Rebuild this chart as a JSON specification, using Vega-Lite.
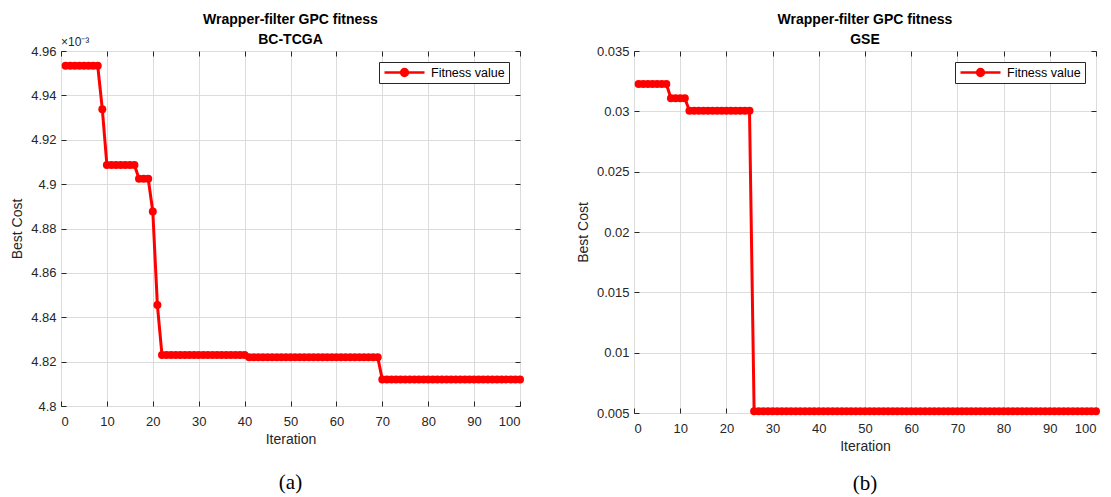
{
  "$schema": "https://vega.github.io/schema/vega-lite/v6.json",
  "background": "white",
  "padding": {"left": 10, "top": 12, "right": 3, "bottom": 0},
  "datasets": {
    "bc": [
      {"iteration": 1, "cost": 0.0049533}, {"iteration": 2, "cost": 0.0049533}, {"iteration": 3, "cost": 0.0049533}, {"iteration": 4, "cost": 0.0049533},
      {"iteration": 5, "cost": 0.0049533}, {"iteration": 6, "cost": 0.0049533}, {"iteration": 7, "cost": 0.0049533}, {"iteration": 8, "cost": 0.0049533},
      {"iteration": 9, "cost": 0.0049338},
      {"iteration": 10, "cost": 0.0049086}, {"iteration": 11, "cost": 0.0049086}, {"iteration": 12, "cost": 0.0049086}, {"iteration": 13, "cost": 0.0049086},
      {"iteration": 14, "cost": 0.0049086}, {"iteration": 15, "cost": 0.0049086}, {"iteration": 16, "cost": 0.0049086},
      {"iteration": 17, "cost": 0.0049024}, {"iteration": 18, "cost": 0.0049024}, {"iteration": 19, "cost": 0.0049024},
      {"iteration": 20, "cost": 0.0048877},
      {"iteration": 21, "cost": 0.0048455},
      {"iteration": 22, "cost": 0.004823}, {"iteration": 23, "cost": 0.004823}, {"iteration": 24, "cost": 0.004823}, {"iteration": 25, "cost": 0.004823},
      {"iteration": 26, "cost": 0.004823}, {"iteration": 27, "cost": 0.004823}, {"iteration": 28, "cost": 0.004823}, {"iteration": 29, "cost": 0.004823},
      {"iteration": 30, "cost": 0.004823}, {"iteration": 31, "cost": 0.004823}, {"iteration": 32, "cost": 0.004823}, {"iteration": 33, "cost": 0.004823},
      {"iteration": 34, "cost": 0.004823}, {"iteration": 35, "cost": 0.004823}, {"iteration": 36, "cost": 0.004823}, {"iteration": 37, "cost": 0.004823},
      {"iteration": 38, "cost": 0.004823}, {"iteration": 39, "cost": 0.004823}, {"iteration": 40, "cost": 0.004823},
      {"iteration": 41, "cost": 0.004822}, {"iteration": 42, "cost": 0.004822}, {"iteration": 43, "cost": 0.004822}, {"iteration": 44, "cost": 0.004822},
      {"iteration": 45, "cost": 0.004822}, {"iteration": 46, "cost": 0.004822}, {"iteration": 47, "cost": 0.004822}, {"iteration": 48, "cost": 0.004822},
      {"iteration": 49, "cost": 0.004822}, {"iteration": 50, "cost": 0.004822}, {"iteration": 51, "cost": 0.004822}, {"iteration": 52, "cost": 0.004822},
      {"iteration": 53, "cost": 0.004822}, {"iteration": 54, "cost": 0.004822}, {"iteration": 55, "cost": 0.004822}, {"iteration": 56, "cost": 0.004822},
      {"iteration": 57, "cost": 0.004822}, {"iteration": 58, "cost": 0.004822}, {"iteration": 59, "cost": 0.004822}, {"iteration": 60, "cost": 0.004822},
      {"iteration": 61, "cost": 0.004822}, {"iteration": 62, "cost": 0.004822}, {"iteration": 63, "cost": 0.004822}, {"iteration": 64, "cost": 0.004822},
      {"iteration": 65, "cost": 0.004822}, {"iteration": 66, "cost": 0.004822}, {"iteration": 67, "cost": 0.004822}, {"iteration": 68, "cost": 0.004822},
      {"iteration": 69, "cost": 0.004822},
      {"iteration": 70, "cost": 0.004812}, {"iteration": 71, "cost": 0.004812}, {"iteration": 72, "cost": 0.004812}, {"iteration": 73, "cost": 0.004812},
      {"iteration": 74, "cost": 0.004812}, {"iteration": 75, "cost": 0.004812}, {"iteration": 76, "cost": 0.004812}, {"iteration": 77, "cost": 0.004812},
      {"iteration": 78, "cost": 0.004812}, {"iteration": 79, "cost": 0.004812}, {"iteration": 80, "cost": 0.004812}, {"iteration": 81, "cost": 0.004812},
      {"iteration": 82, "cost": 0.004812}, {"iteration": 83, "cost": 0.004812}, {"iteration": 84, "cost": 0.004812}, {"iteration": 85, "cost": 0.004812},
      {"iteration": 86, "cost": 0.004812}, {"iteration": 87, "cost": 0.004812}, {"iteration": 88, "cost": 0.004812}, {"iteration": 89, "cost": 0.004812},
      {"iteration": 90, "cost": 0.004812}, {"iteration": 91, "cost": 0.004812}, {"iteration": 92, "cost": 0.004812}, {"iteration": 93, "cost": 0.004812},
      {"iteration": 94, "cost": 0.004812}, {"iteration": 95, "cost": 0.004812}, {"iteration": 96, "cost": 0.004812}, {"iteration": 97, "cost": 0.004812},
      {"iteration": 98, "cost": 0.004812}, {"iteration": 99, "cost": 0.004812}, {"iteration": 100, "cost": 0.004812}
    ],
    "gse": [
      {"iteration": 1, "cost": 0.03227}, {"iteration": 2, "cost": 0.03227}, {"iteration": 3, "cost": 0.03227}, {"iteration": 4, "cost": 0.03227},
      {"iteration": 5, "cost": 0.03227}, {"iteration": 6, "cost": 0.03227}, {"iteration": 7, "cost": 0.03227},
      {"iteration": 8, "cost": 0.03108}, {"iteration": 9, "cost": 0.03108}, {"iteration": 10, "cost": 0.03108}, {"iteration": 11, "cost": 0.03108},
      {"iteration": 12, "cost": 0.03005}, {"iteration": 13, "cost": 0.03005}, {"iteration": 14, "cost": 0.03005}, {"iteration": 15, "cost": 0.03005},
      {"iteration": 16, "cost": 0.03005}, {"iteration": 17, "cost": 0.03005}, {"iteration": 18, "cost": 0.03005}, {"iteration": 19, "cost": 0.03005},
      {"iteration": 20, "cost": 0.03005}, {"iteration": 21, "cost": 0.03005}, {"iteration": 22, "cost": 0.03005}, {"iteration": 23, "cost": 0.03005},
      {"iteration": 24, "cost": 0.03005}, {"iteration": 25, "cost": 0.03005},
      {"iteration": 26, "cost": 0.00514}, {"iteration": 27, "cost": 0.00514}, {"iteration": 28, "cost": 0.00514}, {"iteration": 29, "cost": 0.00514},
      {"iteration": 30, "cost": 0.00514}, {"iteration": 31, "cost": 0.00514}, {"iteration": 32, "cost": 0.00514}, {"iteration": 33, "cost": 0.00514},
      {"iteration": 34, "cost": 0.00514}, {"iteration": 35, "cost": 0.00514}, {"iteration": 36, "cost": 0.00514}, {"iteration": 37, "cost": 0.00514},
      {"iteration": 38, "cost": 0.00514}, {"iteration": 39, "cost": 0.00514}, {"iteration": 40, "cost": 0.00514}, {"iteration": 41, "cost": 0.00514},
      {"iteration": 42, "cost": 0.00514}, {"iteration": 43, "cost": 0.00514}, {"iteration": 44, "cost": 0.00514}, {"iteration": 45, "cost": 0.00514},
      {"iteration": 46, "cost": 0.00514}, {"iteration": 47, "cost": 0.00514}, {"iteration": 48, "cost": 0.00514}, {"iteration": 49, "cost": 0.00514},
      {"iteration": 50, "cost": 0.00514}, {"iteration": 51, "cost": 0.00514}, {"iteration": 52, "cost": 0.00514}, {"iteration": 53, "cost": 0.00514},
      {"iteration": 54, "cost": 0.00514}, {"iteration": 55, "cost": 0.00514}, {"iteration": 56, "cost": 0.00514}, {"iteration": 57, "cost": 0.00514},
      {"iteration": 58, "cost": 0.00514}, {"iteration": 59, "cost": 0.00514}, {"iteration": 60, "cost": 0.00514}, {"iteration": 61, "cost": 0.00514},
      {"iteration": 62, "cost": 0.00514}, {"iteration": 63, "cost": 0.00514}, {"iteration": 64, "cost": 0.00514}, {"iteration": 65, "cost": 0.00514},
      {"iteration": 66, "cost": 0.00514}, {"iteration": 67, "cost": 0.00514}, {"iteration": 68, "cost": 0.00514}, {"iteration": 69, "cost": 0.00514},
      {"iteration": 70, "cost": 0.00514}, {"iteration": 71, "cost": 0.00514}, {"iteration": 72, "cost": 0.00514}, {"iteration": 73, "cost": 0.00514},
      {"iteration": 74, "cost": 0.00514}, {"iteration": 75, "cost": 0.00514}, {"iteration": 76, "cost": 0.00514}, {"iteration": 77, "cost": 0.00514},
      {"iteration": 78, "cost": 0.00514}, {"iteration": 79, "cost": 0.00514}, {"iteration": 80, "cost": 0.00514}, {"iteration": 81, "cost": 0.00514},
      {"iteration": 82, "cost": 0.00514}, {"iteration": 83, "cost": 0.00514}, {"iteration": 84, "cost": 0.00514}, {"iteration": 85, "cost": 0.00514},
      {"iteration": 86, "cost": 0.00514}, {"iteration": 87, "cost": 0.00514}, {"iteration": 88, "cost": 0.00514}, {"iteration": 89, "cost": 0.00514},
      {"iteration": 90, "cost": 0.00514}, {"iteration": 91, "cost": 0.00514}, {"iteration": 92, "cost": 0.00514}, {"iteration": 93, "cost": 0.00514},
      {"iteration": 94, "cost": 0.00514}, {"iteration": 95, "cost": 0.00514}, {"iteration": 96, "cost": 0.00514}, {"iteration": 97, "cost": 0.00514},
      {"iteration": 98, "cost": 0.00514}, {"iteration": 99, "cost": 0.00514}, {"iteration": 100, "cost": 0.00514}
    ],
    "one": [{"k": 1}]
  },
  "config": {
    "font": "Liberation Sans",
    "view": {"stroke": "#262626", "strokeWidth": 1},
    "scale": {"nice": false},
    "axis": {
      "labelFont": "Liberation Sans", "labelFontSize": 13, "labelColor": "#262626",
      "titleFont": "Liberation Sans", "titleFontSize": 14, "titleFontWeight": "normal", "titleColor": "#262626",
      "domain": false, "tickColor": "#262626", "tickSize": -5, "labelPadding": 10,
      "gridColor": "#dcdcdc", "gridWidth": 1
    },
    "axisBottom": {"labelPadding": 14},
    "title": {"font": "Liberation Sans", "fontSize": 14, "fontWeight": "bold", "color": "#000000", "lineHeight": 20, "anchor": "middle", "frame": "group"},
    "legend": {
      "orient": "top-right", "offset": 11, "strokeColor": "#262626", "fillColor": "white", "padding": 4,
      "labelFont": "Liberation Sans", "labelFontSize": 12.5, "labelColor": "#000000",
      "symbolType": "M-1,0H1M-0.17,0A0.17,0.17,0,1,1,0.17,0A0.17,0.17,0,1,1,-0.17,0Z",
      "symbolSize": 1600, "symbolStrokeWidth": 2.5, "symbolFillColor": "#ff0000", "symbolStrokeColor": "#ff0000",
      "clipHeight": 13, "labelOffset": 5
    },
    "concat": {"spacing": 48}
  },
  "resolve": {"scale": {"color": "independent"}, "legend": {"color": "independent"}},
  "hconcat": [
    {
      "width": 459, "height": 355,
      "title": {"text": ["Wrapper-filter GPC fitness", "BC-TCGA"], "offset": -11},
      "layer": [
        {
          "data": {"name": "bc"},
          "mark": {"type": "line", "strokeWidth": 3, "point": {"filled": true, "size": 64}},
          "encoding": {
            "x": {"field": "iteration", "type": "quantitative", "scale": {"domain": [0, 100], "nice": false},
                  "axis": {"orient": "bottom", "title": "Iteration", "values": [0,10,20,30,40,50,60,70,80,90,100], "titlePadding": 4}},
            "y": {"field": "cost", "type": "quantitative", "scale": {"domain": [0.0048, 0.00496], "zero": false, "nice": false},
                  "axis": {"orient": "left", "title": "Best Cost", "values": [0.0048,0.00482,0.00484,0.00486,0.00488,0.0049,0.00492,0.00494,0.00496],
                           "labelExpr": "format(datum.value*1000,'~g')", "titlePadding": 6}},
            "color": {"datum": "Fitness value", "type": "nominal", "scale": {"range": ["#ff0000"]}, "legend": {"title": null}}
          }
        },
        {
          "data": {"name": "one"},
          "mark": {"type": "text", "align": "left", "baseline": "bottom", "dy": -2, "fontSize": 12, "color": "#262626"},
          "encoding": {
            "x": {"datum": 0, "type": "quantitative", "scale": {"domain": [0, 100], "nice": false}, "axis": {"orient": "top", "labels": false, "grid": false, "title": null, "values": [0,10,20,30,40,50,60,70,80,90,100]}},
            "y": {"datum": 0.00496, "type": "quantitative", "scale": {"domain": [0.0048, 0.00496], "zero": false, "nice": false}, "axis": {"orient": "right", "labels": false, "grid": false, "title": null, "values": [0.0048,0.00482,0.00484,0.00486,0.00488,0.0049,0.00492,0.00494,0.00496]}},
            "text": {"value": "×10⁻³"}
          }
        },
        {
          "data": {"name": "one"},
          "mark": {"type": "text", "align": "center", "baseline": "middle", "dy": 77, "fontSize": 21, "font": "Liberation Serif", "color": "#000000"},
          "encoding": {
            "x": {"datum": 50, "type": "quantitative", "scale": {"domain": [0, 100], "nice": false}, "axis": null},
            "y": {"datum": 0.0048, "type": "quantitative", "scale": {"domain": [0.0048, 0.00496], "zero": false, "nice": false}, "axis": null},
            "text": {"value": "(a)"}
          }
        }
      ]
    },
    {
      "width": 462, "height": 362,
      "title": {"text": ["Wrapper-filter GPC fitness", "GSE"], "offset": -2},
      "layer": [
        {
          "data": {"name": "gse"},
          "mark": {"type": "line", "strokeWidth": 3, "point": {"filled": true, "size": 64}},
          "encoding": {
            "x": {"field": "iteration", "type": "quantitative", "scale": {"domain": [0, 100], "nice": false},
                  "axis": {"orient": "bottom", "title": "Iteration", "values": [0,10,20,30,40,50,60,70,80,90,100], "titlePadding": 4}},
            "y": {"field": "cost", "type": "quantitative", "scale": {"domain": [0.005, 0.035], "zero": false, "nice": false},
                  "axis": {"orient": "left", "title": "Best Cost", "values": [0.005,0.01,0.015,0.02,0.025,0.03,0.035], "format": "~g", "titlePadding": 6}},
            "color": {"datum": "Fitness value", "type": "nominal", "scale": {"range": ["#ff0000"]}, "legend": {"title": null}}
          }
        },
        {
          "data": {"name": "one"},
          "mark": {"type": "text", "opacity": 0},
          "encoding": {
            "x": {"datum": 0, "type": "quantitative", "scale": {"domain": [0, 100], "nice": false}, "axis": {"orient": "top", "labels": false, "grid": false, "title": null, "values": [0,10,20,30,40,50,60,70,80,90,100]}},
            "y": {"datum": 0.035, "type": "quantitative", "scale": {"domain": [0.005, 0.035], "zero": false, "nice": false}, "axis": {"orient": "right", "labels": false, "grid": false, "title": null, "values": [0.005,0.01,0.015,0.02,0.025,0.03,0.035]}},
            "text": {"value": " "}
          }
        },
        {
          "data": {"name": "one"},
          "mark": {"type": "text", "align": "center", "baseline": "middle", "dy": 71, "fontSize": 21, "font": "Liberation Serif", "color": "#000000"},
          "encoding": {
            "x": {"datum": 50, "type": "quantitative", "scale": {"domain": [0, 100], "nice": false}, "axis": null},
            "y": {"datum": 0.005, "type": "quantitative", "scale": {"domain": [0.005, 0.035], "zero": false, "nice": false}, "axis": null},
            "text": {"value": "(b)"}
          }
        }
      ]
    }
  ]
}
